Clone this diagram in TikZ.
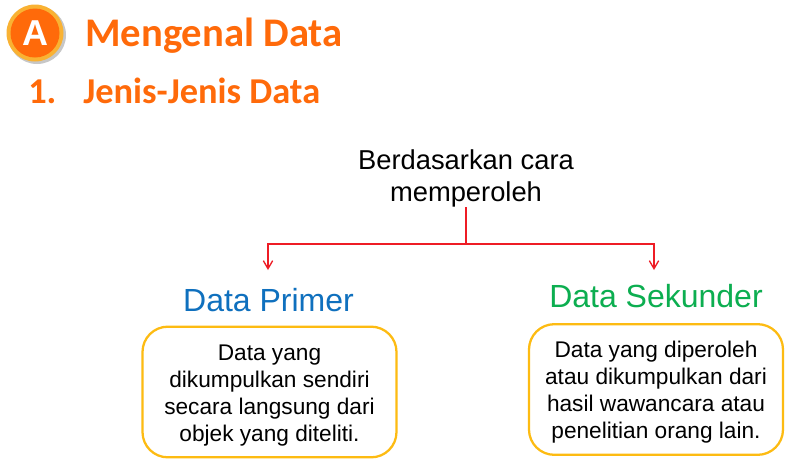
\documentclass[tikz,border=0pt]{standalone}
\usepackage{fontspec}
\setmainfont{Liberation Sans}
\newfontfamily\headfont{Carlito}
\usetikzlibrary{arrows.meta}
\definecolor{headorange}{HTML}{FF6A0A}
\definecolor{linkred}{HTML}{EE1C25}
\definecolor{boxyellow}{HTML}{FDBB12}
\definecolor{primblue}{HTML}{0F70BE}
\definecolor{sekgreen}{HTML}{0CAE50}
\definecolor{rimyellow}{HTML}{F9B233}
\tikzset{
 px/.style={x=0.75pt,y=-0.75pt},
 heading/.style={anchor=base west,text=headorange,inner sep=0},
 bodytext/.style={align=center,inner sep=0,font=\fontsize{17}{20.25}\selectfont},
 defbox/.style={draw=boxyellow,line width=1.7pt,rounded corners=19pt,fill=white},
 link/.style={draw=linkred,line width=1pt},
 linka/.style={link,-{Straight Barb[length=6pt,width=7pt]}},
 title/.style={inner sep=0,font=\fontsize{24}{28}\selectfont}
}
\begin{document}
\begin{tikzpicture}[px]
\useasboundingbox (0,0) rectangle (810,469);
\fill[white] (0,0) rectangle (810,469);
\fill[black!22] (37,35) circle (29);
\fill[rimyellow] (35,33) circle (28.5);
\fill[headorange] (35,33) circle (24.5);
\node[inner sep=0,text=white,font=\bfseries\fontsize{27}{30}\selectfont] (badge) at (35,33) {A};
\node[heading,font=\headfont\bfseries\fontsize{30.5}{34}\selectfont] (t1) at (85,46) {Mengenal Data};
\node[heading,font=\headfont\bfseries\fontsize{27.3}{31}\selectfont] (t2) at (28,103) {1.};
\node[heading,font=\headfont\bfseries\fontsize{27.3}{31}\selectfont] (t3) at (83,103) {Jenis-Jenis Data};
\node[align=center,inner sep=0,font=\fontsize{20.5}{24}\selectfont] (root) at (466,178) {Berdasarkan cara\\memperoleh};
\node[title,text=primblue] (p) at (268.5,300) {Data Primer};
\node[title,text=sekgreen] (s) at (656,296) {Data Sekunder};
\node[defbox,minimum width=190.5pt,minimum height=98pt] (pb) at (269.5,392) {};
\node[bodytext] (pt) at (269.5,395.5) {Data yang\\dikumpulkan sendiri\\secara langsung dari\\objek yang diteliti.};
\node[defbox,minimum width=190.5pt,minimum height=98pt] (sb) at (656,389.5) {};
\node[bodytext] (st) at (656,392) {Data yang diperoleh\\atau dikumpulkan dari\\hasil wawancara atau\\penelitian orang lain.};
\coordinate (j) at (466,244);
\coordinate (pa) at (268,270);
\coordinate (sa) at (654,270);
\draw[link] (root.south -| j) -- (j);
\draw[linka] (j) -| (pa);
\draw[linka] (j) -| (sa);
\end{tikzpicture}
\end{document}
